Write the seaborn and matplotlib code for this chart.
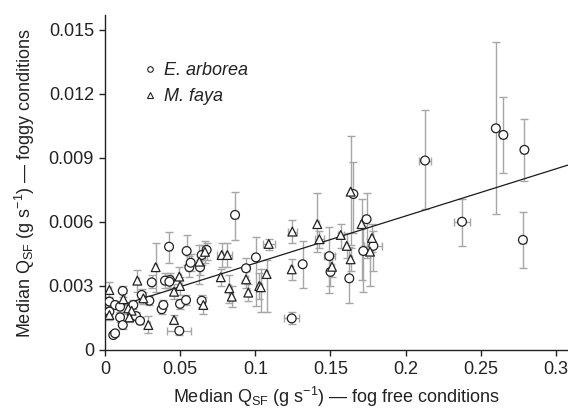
import numpy as np
import pandas as pd
import matplotlib
matplotlib.use("Agg")
import matplotlib.pyplot as plt
import seaborn as sns
from matplotlib.lines import Line2D

# ---------------- data ----------------
ea_x = [0.260, 0.265, 0.279, 0.2375, 0.278, 0.2129, 0.1652, 0.1492, 0.150, 0.1625,
        0.174, 0.1785, 0.1718, 0.0938, 0.1004, 0.1315, 0.1242, 0.0865, 0.0543, 0.0561,
        0.057, 0.0632, 0.0643, 0.0676, 0.0432, 0.0499, 0.0539, 0.0643, 0.0494, 0.0426,
        0.0311, 0.0399, 0.0428, 0.0118, 0.0029, 0.0067, 0.010, 0.0244, 0.0295, 0.0188,
        0.0029, 0.010, 0.0206, 0.0233, 0.0118, 0.0055, 0.0067, 0.0377, 0.0388]
ea_y = [0.01039, 0.01008, 0.00938, 0.00601, 0.00516, 0.00888, 0.00731, 0.00440, 0.00366, 0.00336,
        0.00613, 0.00488, 0.00464, 0.00383, 0.00434, 0.00402, 0.00148, 0.00633, 0.00464, 0.00388,
        0.00409, 0.00388, 0.00445, 0.00469, 0.00328, 0.00216, 0.00234, 0.00231, 0.00090, 0.00484,
        0.00317, 0.00325, 0.00320, 0.00277, 0.00227, 0.00211, 0.00203, 0.00258, 0.00231, 0.00211,
        0.00180, 0.00153, 0.00159, 0.00137, 0.00117, 0.00070, 0.00078, 0.00191, 0.00211]
ea_xerr = [0.002, 0.002, 0.002, 0.0055, 0.002, 0.004, 0.001, 0.0035, 0.001, 0.001,
           0.001, 0.006, 0.001, 0.002, 0.001, 0.001, 0.005, 0.002, 0.001, 0.002,
           0.001, 0.001, 0.001, 0.001, 0.001, 0.001, 0.001, 0.001, 0.008, 0.001,
           0.001, 0.001, 0.001, 0.001, 0.001, 0.001, 0.001, 0.001, 0.001, 0.001,
           0.001, 0.001, 0.001, 0.001, 0.001, 0.001, 0.001, 0.001, 0.001]
ea_ylo = [0.00637, 0.00831, 0.00792, 0.00489, 0.00383, 0.00660, 0.00550, 0.00269, 0.00300, 0.00222,
          0.00430, 0.00370, 0.00270, 0.00330, 0.00206, 0.00289, 0.00120, 0.00516, 0.00400, 0.00340,
          0.00370, 0.00350, 0.00400, 0.00420, 0.00290, 0.00190, 0.00210, 0.00200, 0.00070, 0.00406,
          0.00290, 0.00290, 0.00290, 0.00250, 0.00200, 0.00190, 0.00180, 0.00230, 0.00210, 0.00190,
          0.00160, 0.00130, 0.00140, 0.00120, 0.00100, 0.00060, 0.00065, 0.00170, 0.00190]
ea_yhi = [0.01442, 0.01186, 0.01083, 0.00706, 0.00648, 0.01125, 0.00880, 0.00577, 0.00430, 0.00484,
          0.00734, 0.00560, 0.00580, 0.00430, 0.00531, 0.00511, 0.00180, 0.00742, 0.00539, 0.00440,
          0.00450, 0.00420, 0.00490, 0.00500, 0.00360, 0.00240, 0.00260, 0.00260, 0.00110, 0.00555,
          0.00350, 0.00360, 0.00350, 0.00300, 0.00250, 0.00230, 0.00225, 0.00285, 0.00255, 0.00235,
          0.00200, 0.00175, 0.00180, 0.00155, 0.00135, 0.00080, 0.00090, 0.00215, 0.00235]

mf_x = [0.1634, 0.1412, 0.1426, 0.1568, 0.151, 0.1608, 0.1634, 0.1707, 0.1776, 0.1763,
        0.0938, 0.0953, 0.1026, 0.1036, 0.1089, 0.1075, 0.1246, 0.1242, 0.0627, 0.0665,
        0.0776, 0.0814, 0.077, 0.0827, 0.0843, 0.0494, 0.0499, 0.0459, 0.0654, 0.0459,
        0.0337, 0.0215, 0.0029, 0.0122, 0.0155, 0.0255, 0.0177, 0.0029, 0.0162, 0.0288]
mf_y = [0.00742, 0.00590, 0.00519, 0.00539, 0.00390, 0.00488, 0.00425, 0.00590, 0.00525, 0.00461,
        0.00331, 0.00269, 0.00300, 0.00294, 0.00497, 0.00356, 0.00555, 0.00378, 0.00414, 0.00460,
        0.00445, 0.00445, 0.00341, 0.00289, 0.00250, 0.00344, 0.00300, 0.00273, 0.00211, 0.00141,
        0.00388, 0.00325, 0.00281, 0.00238, 0.00195, 0.00242, 0.00184, 0.00164, 0.00153, 0.00117]
mf_xerr = [0.001, 0.001, 0.003, 0.002, 0.001, 0.001, 0.001, 0.001, 0.001, 0.001,
           0.001, 0.001, 0.001, 0.001, 0.004, 0.001, 0.003, 0.001, 0.001, 0.001,
           0.003, 0.003, 0.001, 0.001, 0.001, 0.001, 0.001, 0.001, 0.001, 0.001,
           0.001, 0.001, 0.001, 0.001, 0.001, 0.001, 0.001, 0.001, 0.001, 0.001]
mf_ylo = [0.00490, 0.00460, 0.00480, 0.00480, 0.00340, 0.00430, 0.00370, 0.00328, 0.00460, 0.00300,
          0.00290, 0.00230, 0.00240, 0.00180, 0.00470, 0.00180, 0.00500, 0.00328, 0.00310, 0.00410,
          0.00390, 0.00390, 0.00300, 0.00220, 0.00200, 0.00290, 0.00260, 0.00240, 0.00170, 0.00120,
          0.00270, 0.00273, 0.00240, 0.00210, 0.00170, 0.00215, 0.00160, 0.00140, 0.00130, 0.00080]
mf_yhi = [0.01005, 0.00734, 0.00560, 0.00590, 0.00450, 0.00550, 0.00480, 0.00706, 0.00590, 0.00520,
          0.00370, 0.00310, 0.00360, 0.00380, 0.00520, 0.00420, 0.00610, 0.00425, 0.00490, 0.00510,
          0.00500, 0.00500, 0.00380, 0.00350, 0.00300, 0.00390, 0.00340, 0.00310, 0.00250, 0.00165,
          0.00500, 0.00375, 0.00320, 0.00265, 0.00220, 0.00270, 0.00210, 0.00190, 0.00180, 0.00160]

species = ["E. arborea", "M. faya"]
reg_intercept = 0.00186
reg_slope = 0.0221

x_ticks = [0, 0.05, 0.1, 0.15, 0.2, 0.25, 0.3]
x_ticklabels = ["0", "0.05", "0.1", "0.15", "0.2", "0.25", "0.3"]
y_ticks = [0, 0.003, 0.006, 0.009, 0.012, 0.015]
y_ticklabels = ["0", "0.003", "0.006", "0.009", "0.012", "0.015"]

# ---------------- build table ----------------
df = pd.concat([
    pd.DataFrame({"x": ea_x, "y": ea_y, "xerr": ea_xerr, "ylo": ea_ylo, "yhi": ea_yhi,
                  "species": species[0]}),
    pd.DataFrame({"x": mf_x, "y": mf_y, "xerr": mf_xerr, "ylo": mf_ylo, "yhi": mf_yhi,
                  "species": species[1]}),
], ignore_index=True)

# ---------------- style ----------------
sns.set_theme(style="ticks")
plt.rcParams["font.family"] = ["Liberation Sans", "DejaVu Sans"]
plt.rcParams["mathtext.fontset"] = "custom"
plt.rcParams["mathtext.rm"] = "Liberation Sans"
plt.rcParams["mathtext.it"] = "Liberation Sans:italic"

FS = 13
TXT = "#222222"

fig = plt.figure(figsize=(5.68, 4.12), dpi=100)
ax = fig.add_axes([0.1849, 0.1505, 0.8151, 0.8131])

ax.set_xlim(0, 0.308)
ax.set_ylim(0, 0.0157)

# error bars
ax.errorbar(df["x"], df["y"], xerr=df["xerr"],
            yerr=[df["y"] - df["ylo"], df["yhi"] - df["y"]],
            fmt="none", ecolor="#a6a6a6", elinewidth=1.0, capsize=2.8, capthick=1.0,
            zorder=1)

# regression line
ax.axline((0, reg_intercept), slope=reg_slope, color="#1a1a1a", lw=0.9, zorder=2)

# points
sns.scatterplot(data=df, x="x", y="y", style="species", markers={species[0]: "o", species[1]: "^"},
                style_order=species, color="white", edgecolor="#222222", linewidth=0.9,
                s=40, ax=ax, zorder=3, legend=False)

# legend
handles = [Line2D([], [], ls="none", marker="o", mfc="white", mec="#222222", ms=4, mew=0.8),
           Line2D([], [], ls="none", marker="^", mfc="white", mec="#222222", ms=4, mew=0.8)]
leg = ax.legend(handles, species, loc="upper left", bbox_to_anchor=(0.062, 0.88),
                frameon=False, handletextpad=0.25, handlelength=1.0, labelspacing=0.5,
                borderaxespad=0, prop={"style": "italic", "size": FS})
for t in leg.get_texts():
    t.set_color(TXT)

ax.set_xticks(x_ticks)
ax.set_xticklabels(x_ticklabels)
ax.set_yticks(y_ticks)
ax.set_yticklabels(y_ticklabels)
ax.tick_params(axis="both", labelsize=FS, colors=TXT, length=4, width=1, direction="out", pad=4)

ax.set_xlabel(r"Median Q$_{\mathrm{SF}}$ (g s$^{-1}$) — fog free conditions", fontsize=FS,
              color=TXT, labelpad=5)
ax.set_ylabel(r"Median Q$_{\mathrm{SF}}$ (g s$^{-1}$) — foggy conditions", fontsize=FS,
              color=TXT, labelpad=8)

for s in ["top", "right"]:
    ax.spines[s].set_visible(False)
for s in ["left", "bottom"]:
    ax.spines[s].set_color(TXT)
    ax.spines[s].set_linewidth(1.0)

fig.savefig("out.png", dpi=100)
